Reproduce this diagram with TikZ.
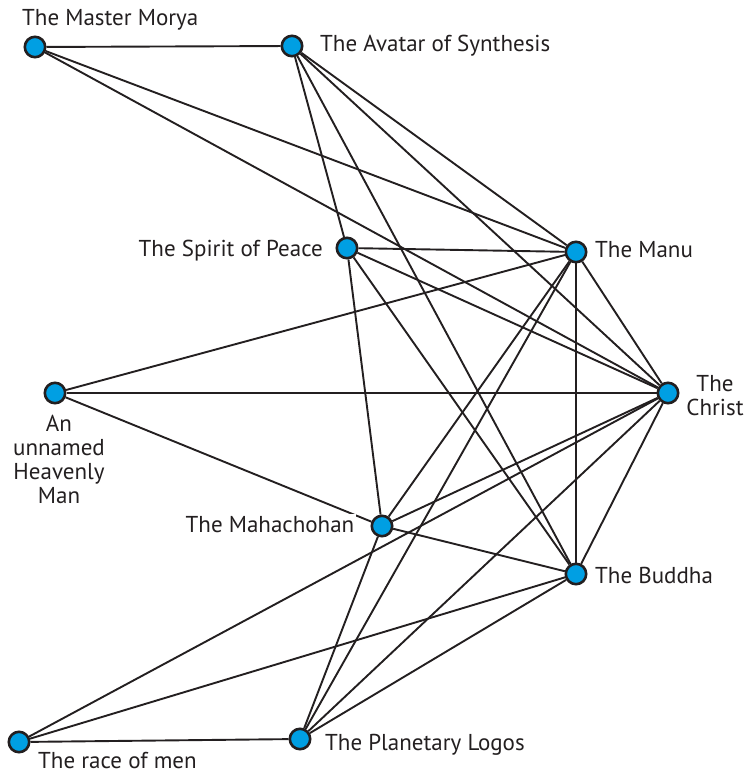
\documentclass[tikz,border=0pt]{standalone}
\usepackage{fontspec}
\setmainfont{PT Sans}
\usepackage{xcolor}
\usepackage{tikz}

\definecolor{dotblue}{HTML}{009FE3}
\definecolor{ink}{HTML}{231F20}

\tikzset{
  vertex/.style={circle, fill=dotblue, draw=ink, line width=2.6pt, minimum size=20.4pt, inner sep=0pt},
  link/.style={draw=ink, line width=1.9pt},
  lbl/.style={font=\fontsize{23}{24}\selectfont, text=ink, inner sep=0pt, align=center}
}

\begin{document}
\begin{tikzpicture}[x=1pt, y=-1pt]
\useasboundingbox (0,0) rectangle (746,775);
% Punti
\node[vertex] (morya) at (35,47) {};
\node[vertex] (avatar) at (292,46) {};
\node[vertex] (spirit) at (347,248) {};
\node[vertex] (manu) at (576,252) {};
\node[vertex] (christ) at (668,393) {};
\node[vertex] (heavenly) at (55,393) {};
\node[vertex] (mahachohan) at (382,526) {};
\node[vertex] (buddha) at (576,574) {};
\node[vertex] (race) at (19,742) {};
\node[vertex] (logos) at (300,739) {};

% Collegamenti
\draw[link] (morya) -- (avatar);
\draw[link] (morya) -- (manu);
\draw[link] (morya) -- (christ);
\draw[link] (avatar) -- (spirit);
\draw[link] (avatar) -- (manu);
\draw[link] (avatar) -- (christ);
\draw[link] (avatar) -- (buddha);
\draw[link] (spirit) -- (manu);
\draw[link] (spirit) -- (christ);
\draw[link] (spirit) -- (buddha);
\draw[link] (spirit) -- (mahachohan);
\draw[link] (heavenly) -- (manu);
\draw[link] (heavenly) -- (christ);
\draw[link] (heavenly) -- (mahachohan);
\draw[link] (manu) -- (christ);
\draw[link] (manu) -- (buddha);
\draw[link] (manu) -- (mahachohan);
\draw[link] (manu) -- (logos);
\draw[link] (christ) -- (mahachohan);
\draw[link] (christ) -- (race);
\draw[link] (christ) -- (logos);
\draw[link] (christ) -- (buddha);
\draw[link] (mahachohan) -- (buddha);
\draw[link] (mahachohan) -- (logos);
\draw[link] (race) -- (logos);
\draw[link] (race) -- (buddha);
\draw[link] (buddha) -- (logos);

% Etichette
\node[lbl, anchor=base west] (moryaL) at (22,26) {The Master Morya};
\node[lbl, anchor=base west] (avatarL) at (320,52) {The Avatar of Synthesis};
\node[lbl, anchor=base east] (spiritL) at (323,257) {The Spirit of Peace};
\node[lbl, anchor=base west] (manuL) at (595,258) {The Manu};
\node[lbl, anchor=base] (christL) at (715,415) {The\\Christ};
\node[lbl, anchor=base] (heavenlyL) at (59,503) {An\\unnamed\\Heavenly\\Man};
\node[lbl, anchor=base east, fill=white, inner sep=1.5pt] (mahachohanL) at (356,532) {The Mahachohan};
\node[lbl, anchor=base west] (buddhaL) at (595,583) {The Buddha};
\node[lbl, anchor=base west] (raceL) at (38,768) {The race of men};
\node[lbl, anchor=base west] (logosL) at (325,750) {The Planetary Logos};
\end{tikzpicture}
\end{document}
